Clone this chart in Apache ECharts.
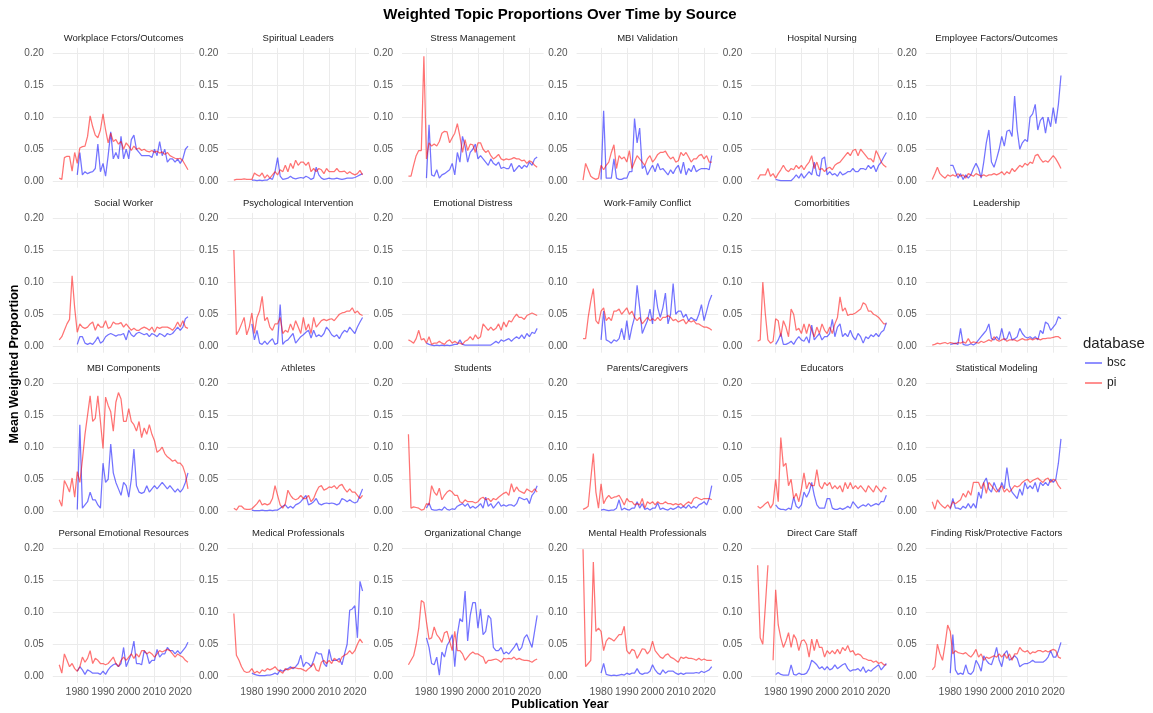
<!DOCTYPE html>
<html><head><meta charset="utf-8">
<script src="https://cdn.jsdelivr.net/npm/echarts@6/dist/echarts.min.js"></script>
<style>html,body{margin:0;padding:0;background:#fff}#c{width:1153px;height:713px}</style>
</head><body><div id="c"></div><script>
// pi series cover 1973-2023, bsc series cover 1980-2023 (aligned to 2023 at the end)
const LAST_YEAR = 2023;
const topics = ["Workplace Fctors/Outcomes","Spiritual Leaders","Stress Management","MBI Validation","Hospital Nursing","Employee Factors/Outcomes",
 "Social Worker","Psychological Intervention","Emotional Distress","Work-Family Conflict","Comorbitities","Leadership",
 "MBI Components","Athletes","Students","Parents/Caregivers","Educators","Statistical Modeling",
 "Personal Emotional Resources","Medical Professionals","Organizational Change","Mental Health Professionals","Direct Care Staff","Finding Risk/Protective Factors"];
const xTicks = [1980,1990,2000,2010,2020];
const yTicks = [0,0.05,0.1,0.15,0.2];
const legendNames = ["bsc","pi"];

const pi_workplace = [0.005,0.003,0.037,0.039,0.039,0.016,0.045,
 0.028,0.052,0.054,0.055,0.07,0.102,0.085,0.072,0.068,0.08,
 0.105,0.08,0.06,0.075,0.062,0.065,0.058,0.062,0.05,0.06,
 0.055,0.048,0.055,0.05,0.052,0.048,0.05,0.047,0.046,0.048,
 0.045,0.047,0.044,0.046,0.042,0.045,0.04,0.038,0.036,0.035,
 0.036,0.032,0.025,0.018];
const bsc_workplace = [0.01,0.045,0.01,0.015,0.012,0.014,0.015,0.02,0.058,0.015,
 0.028,0.008,0.04,0.077,0.035,0.045,0.035,0.07,0.035,0.05,
 0.035,0.065,0.072,0.05,0.045,0.04,0.04,0.04,0.04,0.037,
 0.05,0.04,0.062,0.04,0.05,0.03,0.035,0.035,0.03,0.035,
 0.028,0.035,0.05,0.055];

const pi_spiritual = [0.002,0.003,0.003,0.003,0.004,0.003,0.003,
 0.003,0.013,0.01,0.008,0.013,0.005,0.01,0.005,0.01,0.015,
 0.01,0.018,0.015,0.025,0.015,0.028,0.02,0.033,0.025,0.03,
 0.03,0.025,0.03,0.015,0.02,0.015,0.02,0.018,0.012,0.02,
 0.015,0.015,0.015,0.02,0.015,0.015,0.016,0.012,0.015,0.012,
 0.01,0.012,0.017,0.01];
const bsc_spiritual = [0.002,0.002,0.001,0.002,0.001,0.002,0.002,0.005,0.003,0.015,
 0.037,0.008,0.003,0.004,0.005,0.008,0.005,0.004,0.005,0.006,
 0.005,0.008,0.006,0.003,0.005,0.022,0.01,0.005,0.003,0.004,
 0.005,0.004,0.004,0.005,0.004,0.003,0.004,0.005,0.005,0.005,
 0.006,0.008,0.01,0.012];

const pi_stress = [0.008,0.008,0.025,0.04,0.048,0.048,0.195,
 0.035,0.06,0.055,0.058,0.055,0.062,0.075,0.078,0.077,0.06,
 0.068,0.075,0.09,0.07,0.045,0.065,0.048,0.058,0.057,0.045,
 0.06,0.06,0.05,0.045,0.048,0.04,0.035,0.038,0.042,0.035,
 0.033,0.035,0.034,0.035,0.037,0.035,0.035,0.032,0.033,0.028,
 0.032,0.03,0.025,0.022];
const bsc_stress = [0.005,0.088,0.01,0.008,0.018,0.005,0.01,0.012,0.015,0.018,
 0.028,0.01,0.045,0.03,0.07,0.055,0.03,0.045,0.05,0.058,
 0.035,0.04,0.035,0.03,0.025,0.035,0.028,0.025,0.03,0.02,
 0.022,0.02,0.02,0.028,0.015,0.02,0.025,0.02,0.025,0.022,
 0.03,0.025,0.035,0.038];

const pi_mbival = [0.002,0.028,0.018,0.008,0.005,0.003,0.005,
 0.025,0.018,0.025,0.03,0.045,0.057,0.02,0.04,0.035,0.038,
 0.03,0.048,0.02,0.03,0.04,0.035,0.03,0.025,0.035,0.04,
 0.03,0.035,0.042,0.045,0.045,0.047,0.04,0.035,0.038,0.03,
 0.032,0.045,0.04,0.045,0.038,0.03,0.035,0.035,0.04,0.042,
 0.035,0.04,0.03,0.03];
const bsc_mbival = [0.003,0.11,0.005,0.005,0.005,0.035,0.005,0.003,0.003,0.005,
 0.005,0.015,0.015,0.098,0.06,0.083,0.02,0.025,0.01,0.018,
 0.025,0.015,0.028,0.018,0.02,0.015,0.01,0.018,0.012,0.02,
 0.025,0.012,0.03,0.01,0.02,0.015,0.025,0.015,0.018,0.02,
 0.02,0.02,0.018,0.04];

const pi_hospital = [0.003,0.01,0.01,0.01,0.02,0.008,0.012,
 0.005,0.012,0.018,0.025,0.018,0.015,0.02,0.018,0.025,0.02,
 0.025,0.018,0.025,0.03,0.04,0.02,0.03,0.018,0.02,0.015,
 0.02,0.022,0.018,0.025,0.028,0.03,0.035,0.04,0.045,0.04,
 0.048,0.05,0.04,0.05,0.045,0.04,0.035,0.035,0.03,0.048,
 0.04,0.03,0.025,0.022];
const bsc_hospital = [0.003,0.002,0.001,0.001,0.001,0.001,0.001,0.005,0.01,0.005,
 0.012,0.005,0.01,0.015,0.01,0.03,0.01,0.008,0.035,0.038,
 0.01,0.015,0.01,0.012,0.008,0.015,0.01,0.012,0.015,0.015,
 0.02,0.015,0.015,0.02,0.02,0.018,0.025,0.02,0.025,0.015,
 0.025,0.03,0.038,0.045];

const pi_employee = [0.003,0.012,0.022,0.012,0.008,0.005,0.01,
 0.008,0.01,0.008,0.012,0.008,0.01,0.005,0.012,0.01,0.008,
 0.012,0.01,0.008,0.01,0.008,0.01,0.01,0.012,0.01,0.012,
 0.015,0.01,0.015,0.012,0.02,0.015,0.02,0.025,0.022,0.028,
 0.025,0.03,0.028,0.04,0.042,0.035,0.03,0.032,0.03,0.035,
 0.04,0.035,0.028,0.02];
const bsc_employee = [0.025,0.025,0.015,0.005,0.012,0.003,0.01,0.005,0.01,0.02,
 0.028,0.02,0.005,0.03,0.06,0.08,0.03,0.022,0.035,0.05,
 0.07,0.055,0.078,0.08,0.07,0.133,0.08,0.05,0.06,0.065,
 0.062,0.1,0.105,0.12,0.08,0.095,0.1,0.075,0.1,0.085,
 0.115,0.09,0.12,0.165];

const pi_social = [0.01,0.015,0.025,0.035,0.042,0.11,0.06,
 0.022,0.035,0.03,0.028,0.03,0.035,0.038,0.025,0.035,0.03,
 0.03,0.04,0.028,0.03,0.038,0.035,0.035,0.037,0.03,0.035,
 0.03,0.025,0.028,0.025,0.025,0.028,0.03,0.028,0.025,0.03,
 0.022,0.03,0.028,0.03,0.03,0.03,0.028,0.025,0.03,0.038,
 0.03,0.04,0.03,0.028];
const bsc_social = [0.003,0.015,0.015,0.005,0.003,0.005,0.003,0.008,0.015,0.005,
 0.008,0.015,0.018,0.02,0.018,0.016,0.018,0.018,0.02,0.01,
 0.025,0.018,0.015,0.02,0.022,0.02,0.018,0.02,0.015,0.02,
 0.018,0.015,0.02,0.018,0.015,0.02,0.018,0.02,0.025,0.03,
 0.025,0.03,0.043,0.046];

const pi_psych = [0.15,0.018,0.025,0.035,0.045,0.018,0.03,
 0.052,0.02,0.045,0.055,0.078,0.04,0.045,0.03,0.025,0.035,
 0.035,0.045,0.02,0.025,0.022,0.035,0.025,0.04,0.03,0.02,
 0.045,0.025,0.035,0.02,0.045,0.03,0.035,0.04,0.042,0.04,
 0.042,0.043,0.04,0.045,0.05,0.052,0.053,0.055,0.055,0.06,
 0.052,0.055,0.05,0.048];
const bsc_psych = [0.035,0.01,0.025,0.005,0.003,0.008,0.003,0.008,0.012,0.003,
 0.005,0.065,0.003,0.008,0.01,0.015,0.02,0.005,0.01,0.015,
 0.018,0.022,0.025,0.013,0.025,0.015,0.018,0.015,0.02,0.03,
 0.025,0.018,0.015,0.018,0.012,0.02,0.025,0.022,0.03,0.025,
 0.02,0.03,0.038,0.045];

const pi_distress = [0.01,0.008,0.005,0.012,0.025,0.01,0.012,
 0.005,0.015,0.003,0.005,0.005,0.008,0.005,0.003,0.008,0.01,
 0.005,0.008,0.005,0.005,0.003,0.008,0.01,0.015,0.01,0.018,
 0.012,0.015,0.035,0.03,0.025,0.03,0.025,0.028,0.035,0.025,
 0.038,0.03,0.04,0.038,0.045,0.05,0.045,0.045,0.042,0.048,
 0.05,0.052,0.05,0.048];
const bsc_distress = [0.005,0.003,0.002,0.001,0.002,0.001,0.002,0.001,0.002,0.001,
 0.002,0.003,0.003,0.01,0.003,0.002,0.002,0.002,0.002,0.002,
 0.002,0.002,0.002,0.002,0.002,0.002,0.005,0.008,0.005,0.01,
 0.008,0.01,0.012,0.008,0.012,0.015,0.012,0.018,0.012,0.02,
 0.015,0.022,0.02,0.028];

const pi_workfamily = [0.012,0.012,0.045,0.07,0.09,0.04,0.035,
 0.055,0.06,0.04,0.045,0.04,0.055,0.055,0.058,0.05,0.055,
 0.06,0.05,0.055,0.045,0.04,0.045,0.035,0.04,0.045,0.04,
 0.043,0.04,0.045,0.04,0.045,0.045,0.048,0.045,0.04,0.042,
 0.038,0.04,0.042,0.035,0.04,0.038,0.04,0.035,0.035,0.032,
 0.03,0.03,0.028,0.025];
const bsc_workfamily = [0.01,0.055,0.01,0.008,0.005,0.01,0.008,0.012,0.028,0.01,
 0.04,0.01,0.03,0.045,0.095,0.06,0.02,0.03,0.04,0.058,
 0.035,0.088,0.06,0.045,0.06,0.083,0.035,0.05,0.098,0.05,
 0.055,0.055,0.045,0.05,0.04,0.045,0.042,0.04,0.05,0.065,
 0.04,0.055,0.07,0.08];

const pi_comorb = [0.008,0.01,0.1,0.05,0.01,0.005,0.008,
 0.043,0.04,0.015,0.04,0.03,0.015,0.058,0.05,0.025,0.028,
 0.02,0.035,0.02,0.035,0.025,0.015,0.03,0.02,0.035,0.025,
 0.02,0.03,0.02,0.035,0.045,0.077,0.055,0.06,0.048,0.05,
 0.05,0.052,0.055,0.058,0.068,0.065,0.055,0.055,0.05,0.048,
 0.045,0.04,0.035,0.035];
const bsc_comorb = [0.003,0.01,0.02,0.003,0.003,0.005,0.008,0.003,0.01,0.015,
 0.01,0.008,0.015,0.005,0.033,0.01,0.015,0.02,0.01,0.015,
 0.015,0.02,0.042,0.015,0.03,0.035,0.015,0.02,0.015,0.025,
 0.015,0.01,0.02,0.015,0.005,0.015,0.012,0.018,0.015,0.02,
 0.015,0.022,0.025,0.037];

const pi_leadership = [0.002,0.003,0.005,0.004,0.005,0.006,0.004,
 0.006,0.005,0.004,0.006,0.005,0.007,0.005,0.012,0.005,0.007,
 0.006,0.005,0.008,0.006,0.008,0.01,0.008,0.015,0.01,0.008,
 0.01,0.012,0.008,0.01,0.01,0.01,0.008,0.01,0.012,0.01,
 0.01,0.012,0.01,0.012,0.012,0.01,0.012,0.012,0.013,0.013,
 0.014,0.015,0.015,0.012];
const bsc_leadership = [0.003,0.004,0.005,0.003,0.028,0.003,0.002,0.002,0.004,0.002,
 0.005,0.01,0.015,0.02,0.025,0.035,0.012,0.01,0.015,0.01,
 0.028,0.01,0.012,0.023,0.01,0.012,0.015,0.028,0.02,0.015,
 0.013,0.015,0.012,0.015,0.01,0.025,0.02,0.038,0.035,0.025,
 0.03,0.035,0.046,0.043];

const pi_mbicomp = [0.018,0.008,0.048,0.04,0.03,0.052,0.022,
 0.062,0.045,0.08,0.12,0.15,0.18,0.14,0.145,0.18,0.14,
 0.098,0.178,0.165,0.155,0.125,0.17,0.185,0.175,0.14,0.14,
 0.16,0.14,0.135,0.125,0.14,0.115,0.13,0.12,0.135,0.12,
 0.11,0.092,0.095,0.1,0.09,0.085,0.082,0.078,0.08,0.075,
 0.075,0.07,0.058,0.035];
const bsc_mbicomp = [0.003,0.135,0.005,0.01,0.015,0.03,0.018,0.018,0.01,0.005,
 0.075,0.045,0.05,0.105,0.06,0.045,0.035,0.025,0.045,0.04,
 0.022,0.05,0.097,0.04,0.03,0.028,0.03,0.04,0.03,0.035,
 0.04,0.035,0.04,0.045,0.04,0.035,0.04,0.035,0.03,0.035,
 0.03,0.035,0.045,0.06];

const pi_athletes = [0.005,0.002,0.008,0.008,0.004,0.003,0.003,
 0.004,0.008,0.012,0.018,0.01,0.012,0.01,0.012,0.02,0.04,
 0.025,0.01,0.005,0.012,0.033,0.025,0.02,0.018,0.02,0.025,
 0.02,0.02,0.025,0.015,0.02,0.03,0.038,0.04,0.033,0.035,
 0.038,0.037,0.04,0.035,0.04,0.042,0.035,0.03,0.035,0.03,
 0.03,0.025,0.02,0.025];
const bsc_athletes = [0.002,0.001,0.001,0.001,0.002,0.001,0.001,0.002,0.001,0.002,
 0.002,0.005,0.008,0.01,0.005,0.008,0.005,0.01,0.012,0.015,
 0.02,0.025,0.01,0.012,0.015,0.02,0.012,0.01,0.012,0.013,
 0.012,0.013,0.012,0.01,0.012,0.02,0.018,0.015,0.018,0.015,
 0.013,0.015,0.025,0.035];

const pi_students = [0.12,0.005,0.007,0.006,0.005,0.002,0.003,
 0.012,0.01,0.04,0.03,0.025,0.036,0.018,0.025,0.03,0.033,
 0.03,0.025,0.025,0.015,0.013,0.018,0.015,0.015,0.015,0.013,
 0.015,0.02,0.022,0.018,0.02,0.015,0.02,0.018,0.022,0.025,
 0.028,0.03,0.025,0.043,0.03,0.038,0.032,0.03,0.028,0.035,
 0.032,0.03,0.035,0.03];
const bsc_students = [0.005,0.013,0.003,0.002,0.002,0.003,0.002,0.007,0.003,0.002,
 0.004,0.003,0.008,0.01,0.012,0.008,0.012,0.005,0.008,0.005,
 0.008,0.012,0.005,0.022,0.008,0.012,0.005,0.01,0.015,0.008,
 0.01,0.008,0.01,0.01,0.008,0.012,0.022,0.02,0.018,0.02,
 0.012,0.025,0.03,0.04];

const pi_parents = [0.003,0.005,0.008,0.05,0.09,0.03,0.005,
 0.043,0.012,0.02,0.025,0.02,0.022,0.023,0.025,0.018,0.01,
 0.02,0.015,0.015,0.01,0.012,0.01,0.02,0.005,0.015,0.012,
 0.015,0.01,0.015,0.012,0.012,0.015,0.012,0.012,0.01,0.012,
 0.01,0.012,0.008,0.012,0.015,0.012,0.02,0.022,0.02,0.018,
 0.02,0.02,0.02,0.018];
const bsc_parents = [0.002,0.003,0.002,0.001,0.002,0.002,0.005,0.018,0.002,0.005,
 0.003,0.002,0.005,0.005,0.015,0.005,0.012,0.003,0.005,0.002,
 0.005,0.005,0.013,0.003,0.005,0.003,0.002,0.005,0.003,0.005,
 0.008,0.005,0.008,0.005,0.01,0.005,0.008,0.005,0.01,0.012,
 0.015,0.01,0.02,0.04];

const pi_educators = [0.008,0.005,0.008,0.012,0.015,0.005,0.012,
 0.05,0.015,0.115,0.07,0.075,0.04,0.05,0.02,0.028,0.015,
 0.035,0.06,0.035,0.045,0.04,0.04,0.065,0.04,0.035,0.045,
 0.04,0.045,0.035,0.04,0.035,0.04,0.03,0.045,0.035,0.045,
 0.035,0.04,0.035,0.04,0.035,0.03,0.04,0.035,0.03,0.04,
 0.035,0.03,0.038,0.035];
const bsc_educators = [0.01,0.005,0.003,0.003,0.002,0.005,0.003,0.022,0.008,0.005,
 0.01,0.03,0.022,0.03,0.045,0.025,0.01,0.005,0.005,0.005,
 0.02,0.02,0.005,0.003,0.003,0.005,0.003,0.005,0.008,0.005,
 0.015,0.01,0.005,0.008,0.01,0.008,0.012,0.008,0.01,0.012,
 0.01,0.015,0.015,0.025];

const pi_statmodel = [0.015,0.003,0.018,0.012,0.008,0.005,0.01,
 0.005,0.015,0.012,0.015,0.018,0.028,0.022,0.032,0.025,0.045,
 0.045,0.045,0.035,0.045,0.028,0.045,0.04,0.035,0.03,0.035,
 0.04,0.03,0.035,0.03,0.035,0.04,0.038,0.04,0.045,0.048,
 0.05,0.045,0.048,0.05,0.052,0.048,0.045,0.05,0.052,0.045,
 0.05,0.048,0.04,0.035];
const bsc_statmodel = [0.003,0.02,0.005,0.005,0.003,0.008,0.005,0.012,0.005,0.012,
 0.005,0.03,0.02,0.045,0.052,0.035,0.03,0.045,0.035,0.03,
 0.045,0.035,0.068,0.04,0.03,0.025,0.02,0.035,0.025,0.045,
 0.035,0.04,0.035,0.045,0.03,0.045,0.04,0.045,0.04,0.05,
 0.045,0.05,0.075,0.113];

const pi_personal = [0.018,0.005,0.035,0.025,0.015,0.02,0.012,
 0.008,0.015,0.03,0.022,0.028,0.04,0.02,0.028,0.025,0.02,
 0.02,0.018,0.02,0.025,0.03,0.02,0.015,0.025,0.03,0.025,
 0.03,0.035,0.028,0.035,0.03,0.04,0.04,0.035,0.038,0.035,
 0.03,0.035,0.04,0.038,0.04,0.042,0.04,0.035,0.03,0.035,
 0.032,0.03,0.025,0.022];
const bsc_personal = [0.008,0.015,0.01,0.003,0.01,0.008,0.005,0.005,0.005,0.003,
 0.008,0.003,0.01,0.015,0.018,0.02,0.015,0.02,0.045,0.015,
 0.025,0.035,0.055,0.02,0.02,0.018,0.04,0.035,0.02,0.025,
 0.025,0.042,0.03,0.035,0.035,0.045,0.04,0.04,0.035,0.04,
 0.035,0.04,0.045,0.053];

const pi_medical = [0.098,0.033,0.025,0.015,0.008,0.006,0.007,
 0.012,0.005,0.008,0.005,0.01,0.008,0.012,0.01,0.012,0.015,
 0.01,0.008,0.005,0.012,0.01,0.012,0.014,0.013,0.012,0.012,
 0.01,0.008,0.012,0.015,0.02,0.01,0.008,0.022,0.025,0.02,
 0.025,0.02,0.028,0.025,0.022,0.03,0.033,0.035,0.04,0.035,
 0.04,0.05,0.058,0.052];
const bsc_medical = [0.005,0.003,0.002,0.001,0.001,0.001,0.002,0.002,0.003,0.005,
 0.003,0.01,0.008,0.01,0.012,0.015,0.012,0.015,0.02,0.033,
 0.015,0.022,0.02,0.015,0.025,0.038,0.035,0.035,0.02,0.015,
 0.042,0.025,0.025,0.025,0.028,0.018,0.035,0.05,0.103,0.105,
 0.11,0.06,0.148,0.133];

const pi_orgchange = [0.018,0.025,0.032,0.05,0.075,0.118,0.115,
 0.085,0.058,0.06,0.077,0.065,0.06,0.053,0.068,0.07,0.055,
 0.04,0.07,0.04,0.04,0.035,0.025,0.03,0.035,0.038,0.035,
 0.035,0.032,0.03,0.02,0.025,0.025,0.026,0.027,0.025,0.022,
 0.028,0.027,0.028,0.027,0.03,0.026,0.028,0.026,0.025,0.025,
 0.024,0.022,0.025,0.027];
const bsc_orgchange = [0.06,0.045,0.02,0.018,0.03,0.002,0.038,0.03,0.048,0.055,
 0.065,0.015,0.065,0.09,0.085,0.133,0.055,0.095,0.115,0.115,
 0.075,0.105,0.065,0.07,0.095,0.09,0.045,0.04,0.04,0.045,
 0.035,0.038,0.035,0.04,0.045,0.052,0.04,0.045,0.06,0.065,
 0.055,0.045,0.07,0.095];

const pi_mentalhealth = [0.198,0.015,0.02,0.025,0.178,0.07,0.075,
 0.07,0.04,0.055,0.06,0.058,0.055,0.06,0.065,0.065,0.078,
 0.04,0.035,0.042,0.04,0.028,0.035,0.043,0.042,0.035,0.04,
 0.055,0.04,0.035,0.03,0.028,0.033,0.035,0.03,0.028,0.025,
 0.022,0.03,0.028,0.03,0.028,0.028,0.027,0.025,0.028,0.025,
 0.027,0.025,0.025,0.025];
const bsc_mentalhealth = [0.005,0.02,0.003,0.002,0.001,0.002,0.001,0.002,0.003,0.002,
 0.005,0.003,0.005,0.005,0.012,0.005,0.003,0.005,0.005,0.008,
 0.018,0.01,0.005,0.003,0.01,0.005,0.008,0.008,0.008,0.005,
 0.003,0.005,0.003,0.005,0.005,0.005,0.005,0.006,0.005,0.008,
 0.006,0.008,0.01,0.015];

const pi_directcare = [0.173,0.06,0.05,0.11,0.173,null,0.025,
 0.135,0.08,0.06,0.045,0.055,0.068,0.045,0.065,0.058,0.04,
 0.055,0.057,0.05,0.03,0.058,0.04,0.058,0.045,0.045,0.03,
 0.04,0.035,0.04,0.035,0.042,0.035,0.045,0.04,0.048,0.038,
 0.04,0.033,0.035,0.033,0.028,0.027,0.025,0.025,0.022,0.024,
 0.02,0.022,0.018,0.018];
const bsc_directcare = [0.003,0.006,0.003,0.002,0.002,0.002,0.018,0.003,0.002,0.005,
 0.003,0.003,0.005,0.012,0.025,0.022,0.018,0.012,0.015,0.01,
 0.015,0.01,0.012,0.018,0.012,0.015,0.018,0.02,0.012,0.008,
 0.01,0.01,0.012,0.008,0.015,0.006,0.01,0.008,0.012,0.015,
 0.018,0.01,0.015,0.02];

const pi_risk = [0.01,0.015,0.05,0.035,0.025,0.05,0.08,
 0.07,0.035,0.04,0.037,0.036,0.035,0.037,0.033,0.03,0.035,
 0.042,0.03,0.035,0.025,0.03,0.028,0.03,0.032,0.03,0.035,
 0.03,0.035,0.028,0.035,0.025,0.035,0.035,0.045,0.04,0.038,
 0.04,0.035,0.038,0.037,0.04,0.04,0.038,0.04,0.038,0.04,
 0.042,0.04,0.03,0.028];
const bsc_risk = [0.005,0.065,0.01,0.003,0.005,0.003,0.018,0.005,0.003,0.008,
 0.025,0.018,0.008,0.032,0.025,0.02,0.018,0.03,0.045,0.025,
 0.015,0.035,0.04,0.025,0.028,0.032,0.028,0.015,0.018,0.02,
 0.02,0.022,0.025,0.022,0.022,0.022,0.022,0.025,0.03,0.04,
 0.03,0.03,0.04,0.053];

const panelData = [
 [bsc_workplace,pi_workplace],[bsc_spiritual,pi_spiritual],[bsc_stress,pi_stress],[bsc_mbival,pi_mbival],[bsc_hospital,pi_hospital],[bsc_employee,pi_employee],
 [bsc_social,pi_social],[bsc_psych,pi_psych],[bsc_distress,pi_distress],[bsc_workfamily,pi_workfamily],[bsc_comorb,pi_comorb],[bsc_leadership,pi_leadership],
 [bsc_mbicomp,pi_mbicomp],[bsc_athletes,pi_athletes],[bsc_students,pi_students],[bsc_parents,pi_parents],[bsc_educators,pi_educators],[bsc_statmodel,pi_statmodel],
 [bsc_personal,pi_personal],[bsc_medical,pi_medical],[bsc_orgchange,pi_orgchange],[bsc_mentalhealth,pi_mentalhealth],[bsc_directcare,pi_directcare],[bsc_risk,pi_risk]
];

function toPairs(arr){
  const start = LAST_YEAR - arr.length + 1;
  return arr.map((v,i)=>[start+i, v===null ? '-' : v]);
}

const FONT = '"Liberation Sans", Arial, Helvetica, sans-serif';
const BLUE = 'rgba(0,0,255,0.55)';
const RED = 'rgba(255,0,0,0.55)';
const GRIDC = '#ebebeb';
const L0 = 52.8, DX = 174.6, W = 141.6, T0 = 47.9, DY = 165, H = 139.8;
const NCOL = 6, NROW = 4;

const grids=[], xAxes=[], yAxes=[], series=[], titles=[];
titles.push({text:'Weighted Topic Proportions Over Time by Source', left:560, top:6, textAlign:'center', padding:0,
  textStyle:{fontFamily:FONT, fontSize:15, fontWeight:'bold', color:'#000', lineHeight:18}});

panelData.forEach((pd,i)=>{
  const c = i % NCOL, r = Math.floor(i / NCOL);
  const left = L0 + DX*c, top = T0 + DY*r;
  grids.push({left:left, top:top, width:W, height:H, containLabel:false, outerBoundsMode:'none', show:false});
  const bottomRow = r === NROW-1;
  xAxes.push({type:'value', gridIndex:i, min:1970.5, max:2025.5,
    axisLine:{show:false},
    axisTick:{show:false, customValues:xTicks},
    axisLabel:{show:bottomRow, customValues:xTicks, margin:4, fontSize:10.5, color:'#555', fontFamily:FONT,
      formatter:v=>String(v)},
    splitLine:{show:true, lineStyle:{color:GRIDC, width:1}}});
  yAxes.push({type:'value', gridIndex:i, min:-0.0099, max:0.2079,
    axisLine:{show:false},
    axisTick:{show:false, customValues:yTicks},
    axisLabel:{show:true, customValues:yTicks, margin:9, fontSize:10, color:'#555', fontFamily:FONT,
      formatter:v=>v.toFixed(2)},
    splitLine:{show:true, lineStyle:{color:GRIDC, width:1}}});
  titles.push({text:topics[i], left:left+W/2, top:top-16, textAlign:'center', padding:0,
    textStyle:{fontFamily:FONT, fontSize:9.5, fontWeight:'normal', color:'#222', lineHeight:12}});
  series.push({name:legendNames[0], type:'line', xAxisIndex:i, yAxisIndex:i, data:toPairs(pd[0]),
    symbol:'none', showSymbol:false, connectNulls:false, silent:true,
    lineStyle:{width:1.25, color:BLUE}, itemStyle:{color:BLUE}});
  series.push({name:legendNames[1], type:'line', xAxisIndex:i, yAxisIndex:i, data:toPairs(pd[1]),
    symbol:'none', showSymbol:false, connectNulls:false, silent:true,
    lineStyle:{width:1.25, color:RED}, itemStyle:{color:RED}});
});

const chart = echarts.init(document.getElementById('c'), null, {renderer:'canvas'});
chart.setOption({
  backgroundColor:'#fff',
  animation:false,
  title:titles,
  grid:grids, xAxis:xAxes, yAxis:yAxes, series:series,
  legend:{data:legendNames, orient:'vertical', left:1085, top:356, icon:'rect', itemWidth:17, itemHeight:1.6,
    itemGap:6, padding:0, selectedMode:false,
    textStyle:{fontFamily:FONT, fontSize:12, color:'#222', lineHeight:14}},
  graphic:[
    {type:'text', x:15, y:364, rotation:Math.PI/2,
     style:{text:'Mean Weighted Proportion', font:'bold 12.5px '+FONT, fill:'#000', align:'center', verticalAlign:'middle'}},
    {type:'text', x:560, y:705,
     style:{text:'Publication Year', font:'bold 12.5px '+FONT, fill:'#000', align:'center', verticalAlign:'middle'}},
    {type:'text', x:1083, y:344,
     style:{text:'database', font:'15px '+FONT, fill:'#222', align:'left', verticalAlign:'middle'}}
  ]
});
</script></body></html>
